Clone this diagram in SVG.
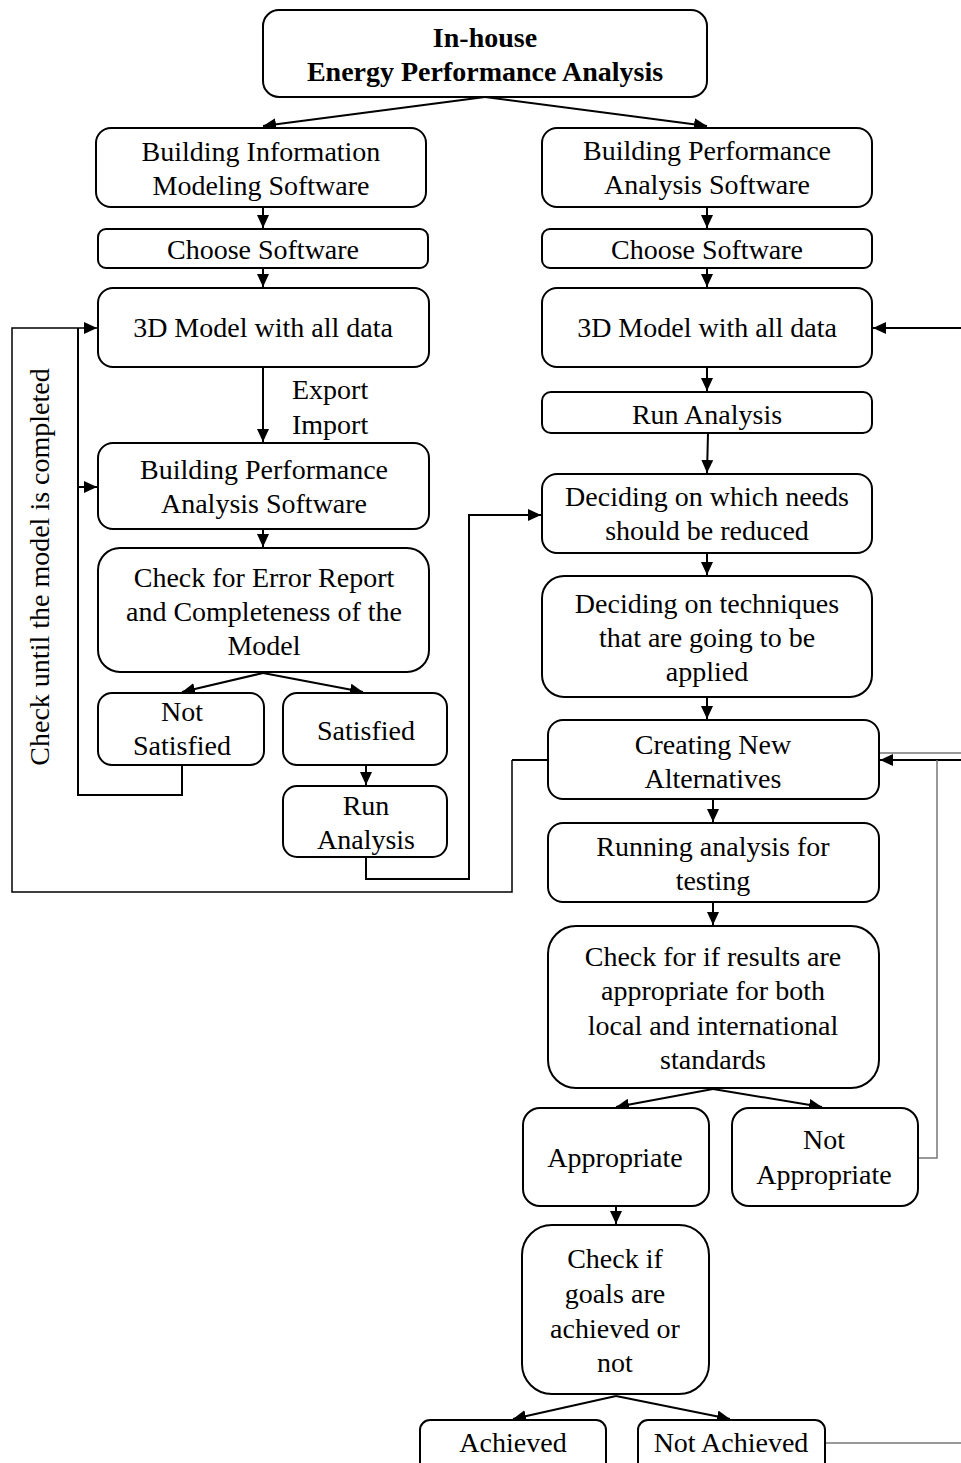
<svg xmlns="http://www.w3.org/2000/svg" width="961" height="1463" viewBox="0 0 961 1463">
<style>
.box{fill:#fff;stroke:#000;stroke-width:2}
text{font-family:'Liberation Serif','Tinos','Times New Roman','DejaVu Serif',serif;font-size:28px;fill:#000;text-anchor:middle}
.tb{font-weight:bold}
.c{fill:none;stroke:#000;stroke-width:2}
.thin{fill:none;stroke:#000;stroke-width:1.5}
.gray{fill:none;stroke:#777;stroke-width:1.5}
</style>
<defs>
<marker id="ah" markerUnits="userSpaceOnUse" markerWidth="14" markerHeight="12" refX="13" refY="6" orient="auto">
<path d="M0,0 L13,6 L0,12 z" fill="#000"/>
</marker>
</defs>
<rect width="961" height="1463" fill="#fff"/>
<g id="connectors">
<path class="c" d="M485,97 L263,126" marker-end="url(#ah)"/>
<path class="c" d="M485,97 L707,126" marker-end="url(#ah)"/>
<path class="c" d="M263,207 L263,228" marker-end="url(#ah)"/>
<path class="c" d="M707,207 L707,228" marker-end="url(#ah)"/>
<path class="c" d="M263,268 L263,287" marker-end="url(#ah)"/>
<path class="c" d="M707,268 L707,287" marker-end="url(#ah)"/>
<path class="c" d="M263,367 L263,442" marker-end="url(#ah)"/>
<path class="c" d="M263,529 L263,547" marker-end="url(#ah)"/>
<path class="c" d="M263,673 L182,692" marker-end="url(#ah)"/>
<path class="c" d="M263,673 L363,692" marker-end="url(#ah)"/>
<path class="c" d="M366,765 L366,785" marker-end="url(#ah)"/>
<path class="c" d="M182,765 L182,795 L78,795 L78,328"/>
<path class="c" d="M78,487 L97,487" marker-end="url(#ah)"/>
<path class="thin" d="M512,760 L512,892 L12,892 L12,328 L97,328" marker-end="url(#ah)"/>
<path class="c" d="M548,760 L512,760"/>
<path class="c" d="M366,857 L366,879 L469,879 L469,515 L541,515" marker-end="url(#ah)"/>
<path class="c" d="M961,328 L873,328" marker-end="url(#ah)"/>
<path class="c" d="M707,367 L707,391" marker-end="url(#ah)"/>
<path class="c" d="M708,433 L707,473" marker-end="url(#ah)"/>
<path class="c" d="M707,553 L707,575" marker-end="url(#ah)"/>
<path class="c" d="M707,697 L707,719" marker-end="url(#ah)"/>
<path class="c" d="M713,799 L713,822" marker-end="url(#ah)"/>
<path class="c" d="M713,902 L713,925" marker-end="url(#ah)"/>
<path class="c" d="M713,1089 L616,1107" marker-end="url(#ah)"/>
<path class="c" d="M713,1089 L822,1107" marker-end="url(#ah)"/>
<path class="c" d="M616,1206 L616,1224" marker-end="url(#ah)"/>
<path class="c" d="M616,1396 L513,1419" marker-end="url(#ah)"/>
<path class="c" d="M616,1396 L730,1419" marker-end="url(#ah)"/>
<path class="c" d="M961,760 L880,760" marker-end="url(#ah)"/>
<path class="gray" d="M879,753 L961,753"/>
<path class="gray" d="M918,1158 L937,1158 L937,760"/>
<path class="gray" d="M826,1443 L961,1443"/>
</g>
<g id="n-title"><rect class="box" x="263" y="10" width="444" height="87" rx="16"/>
<text class="tb" x="485" y="47">In-house</text><text class="tb" x="485" y="81">Energy Performance Analysis</text></g>
<g id="n-bim"><rect class="box" x="96" y="128" width="330" height="79" rx="15"/>
<text x="261" y="161">Building Information</text><text x="261" y="195">Modeling Software</text></g>
<g id="n-bpa1"><rect class="box" x="542" y="128" width="330" height="79" rx="15"/>
<text x="707" y="160">Building Performance</text><text x="707" y="194">Analysis Software</text></g>
<g id="n-choose1"><rect class="box" x="98" y="229" width="330" height="39" rx="8"/>
<text x="263" y="259">Choose Software</text></g>
<g id="n-choose2"><rect class="box" x="542" y="229" width="330" height="39" rx="8"/>
<text x="707" y="259">Choose Software</text></g>
<g id="n-model1"><rect class="box" x="98" y="288" width="331" height="79" rx="15"/>
<text x="263" y="337">3D Model with all  data</text></g>
<g id="n-model2"><rect class="box" x="542" y="288" width="330" height="79" rx="15"/>
<text x="707" y="337">3D Model with all  data</text></g>
<g id="n-exportlabel"><text style="text-anchor:start" x="292" y="399">Export</text><text style="text-anchor:start" x="292" y="434">Import</text></g>
<g id="n-bpa2"><rect class="box" x="98" y="443" width="331" height="86" rx="15"/>
<text x="264" y="479">Building Performance</text><text x="264" y="513">Analysis Software</text></g>
<g id="n-check1"><rect class="box" x="98" y="548" width="331" height="124" rx="22"/>
<text x="264" y="587">Check for Error Report</text><text x="264" y="621">and Completeness of the</text><text x="264" y="655">Model</text></g>
<g id="n-notsat"><rect class="box" x="98" y="693" width="166" height="72" rx="14"/>
<text x="182" y="721">Not</text><text x="182" y="755">Satisfied</text></g>
<g id="n-sat"><rect class="box" x="283" y="693" width="164" height="72" rx="14"/>
<text x="366" y="740">Satisfied</text></g>
<g id="n-run1"><rect class="box" x="283" y="786" width="164" height="71" rx="14"/>
<text x="366" y="815">Run</text><text x="366" y="849">Analysis</text></g>
<g id="n-run2"><rect class="box" x="542" y="392" width="330" height="41" rx="9"/>
<text x="707" y="424">Run Analysis</text></g>
<g id="n-needs"><rect class="box" x="542" y="474" width="330" height="79" rx="15"/>
<text x="707" y="506">Deciding on which needs</text><text x="707" y="540">should be reduced</text></g>
<g id="n-tech"><rect class="box" x="542" y="576" width="330" height="121" rx="22"/>
<text x="707" y="613">Deciding on techniques</text><text x="707" y="647">that are going to be</text><text x="707" y="681">applied</text></g>
<g id="n-create"><rect class="box" x="548" y="720" width="331" height="79" rx="15"/>
<text x="713" y="754">Creating New</text><text x="713" y="788">Alternatives</text></g>
<g id="n-running"><rect class="box" x="548" y="823" width="331" height="79" rx="15"/>
<text x="713" y="856">Running analysis for</text><text x="713" y="890">testing</text></g>
<g id="n-check2"><rect class="box" x="548" y="926" width="331" height="162" rx="28"/>
<text x="713" y="966">Check for if results are</text><text x="713" y="1000">appropriate for both</text><text x="713" y="1035">local and international</text><text x="713" y="1069">standards</text></g>
<g id="n-approp"><rect class="box" x="523" y="1108" width="186" height="98" rx="17"/>
<text x="615" y="1167">Appropriate</text></g>
<g id="n-notapprop"><rect class="box" x="732" y="1108" width="186" height="98" rx="17"/>
<text x="824" y="1149">Not</text><text x="824" y="1184">Appropriate</text></g>
<g id="n-goals"><rect class="box" x="522" y="1225" width="187" height="169" rx="30"/>
<text x="615" y="1268">Check if</text><text x="615" y="1303">goals are</text><text x="615" y="1338">achieved or</text><text x="615" y="1372">not</text></g>
<g id="n-achieved"><rect class="box" x="420" y="1420" width="186" height="60" rx="10"/>
<text x="513" y="1452">Achieved</text></g>
<g id="n-notachieved"><rect class="box" x="638" y="1420" width="187" height="60" rx="10"/>
<text x="731" y="1452">Not Achieved</text></g>
<g id="n-looplabel"><text transform="translate(49,567) rotate(-90)">Check until the model is completed</text></g>
</svg>
